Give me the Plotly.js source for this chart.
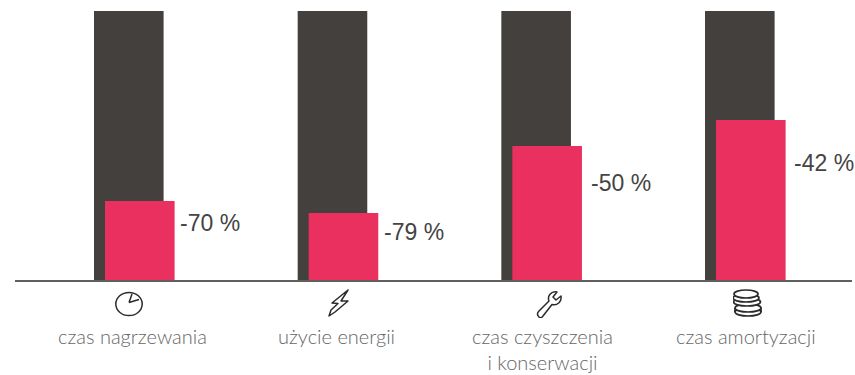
<!DOCTYPE html>
<html><head><meta charset="utf-8">
<script src="https://cdn.plot.ly/plotly-3.0.1.min.js"></script>
<style>html,body{margin:0;padding:0;background:#fff;overflow:hidden}#c{width:855px;height:375px}</style>
</head><body><div id="c"></div>
<script>
const categories = ['czas nagrzewania','użycie energii','czas czyszczenia<br>i konserwacji','czas amortyzacji'];
const baseValues = [100,100,100,100];
const reducedValues = [29.4,24.9,49.8,59.5];
const percentLabels = ['-70 %','-79 %','-50 %','-42 %'];

const W=855,H=375,L=15,R=3,T=11,B=95;
const pw=W-L-R, ph=H-T-B, step=203.67;
const idx=categories.map((_,i)=>i);
const x0=(15-134)/step, x1=(852-134)/step;
const barW=69.6/step;
const labelDrop=[22,19,37,43];
const labelX=[179,383,590,793];
const catX=[132,336,542,746];
const iconX=[129,339,549,748];
const stroke='#2b2b2b';
const icons=[
 `<ellipse cx="15" cy="16" rx="13.2" ry="11.6" fill="none" stroke="${stroke}" stroke-width="1.5"/><path d="M15 14.5 L18 6 M15 14.5 L25 11.5" fill="none" stroke="${stroke}" stroke-width="1.5"/>`,
 `<path d="M24 2 L8 15 L14 15.5 L7 22 L5 28 L11 24 L24 13 L17 13 Z" fill="none" stroke="${stroke}" stroke-width="1.5" stroke-linejoin="round"/>`,
 `<path d="M5 29 C3 27 3 25 5 23 L15 13 C13 8 17 3 23 4 L19 9 L22 12 L27 8 C28 14 23 18 18 16.5 L9 28 C8 30 6 30 5 29 Z" fill="none" stroke="${stroke}" stroke-width="1.5" stroke-linejoin="round"/>`,
 `<g fill="#fff" stroke="${stroke}" stroke-width="1.7"><ellipse cx="15" cy="24" rx="13" ry="4"/><path d="M2 20v4M28 20v4"/><ellipse cx="15" cy="20" rx="13" ry="4"/><ellipse cx="14" cy="14" rx="13.5" ry="4"/><ellipse cx="13" cy="10" rx="13" ry="4"/><ellipse cx="13" cy="6" rx="12" ry="4"/></g>`
];
const svgUri=s=>'data:image/svg+xml;utf8,'+encodeURIComponent(`<svg xmlns="http://www.w3.org/2000/svg" width="30" height="30" viewBox="0 0 30 30">${s}</svg>`);

const traces=[
 {type:'bar',x:idx,y:baseValues,width:barW,offset:(94-134)/step,marker:{color:'#44403d',line:{width:0}},hoverinfo:'skip',showlegend:false},
 {type:'bar',x:idx,y:reducedValues,width:barW,offset:(105-134)/step,marker:{color:'#ea305e',line:{width:0}},hoverinfo:'skip',showlegend:false}
];
const annotations=[];
idx.forEach(i=>{
 annotations.push({xref:'paper',yref:'y',x:(labelX[i]-L)/pw,y:reducedValues[i],yshift:-labelDrop[i],xanchor:'left',yanchor:'middle',text:percentLabels[i],showarrow:false,borderpad:0,font:{family:'Liberation Sans, Arial, sans-serif',size:23,color:'#444444'}});
 annotations.push({xref:'paper',yref:'paper',x:(catX[i]-L)/pw,y:(H-B-323)/ph,xanchor:'center',yanchor:'top',align:'center',text:categories[i],showarrow:false,borderpad:0,font:{family:'Lato, sans-serif',size:20,weight:300,color:'#666666'}});
});
const images=idx.map(i=>({source:svgUri(icons[i]),xref:'paper',yref:'paper',x:(iconX[i]-15-L)/pw,y:(H-B-288)/ph,sizex:30/pw,sizey:30/ph,xanchor:'left',yanchor:'top',sizing:'stretch',layer:'above'}));
const layout={width:W,height:H,margin:{l:L,r:R,t:T,b:B},paper_bgcolor:'#fff',plot_bgcolor:'#fff',barmode:'overlay',
 xaxis:{range:[x0,x1],showgrid:false,zeroline:false,showticklabels:false,ticks:'',showline:true,linecolor:'#5f5f5f',linewidth:2,fixedrange:true},
 yaxis:{range:[0,100],visible:false,fixedrange:true},
 annotations,images};
Plotly.newPlot('c',traces,layout,{displayModeBar:false,staticPlot:true});
</script></body></html>
